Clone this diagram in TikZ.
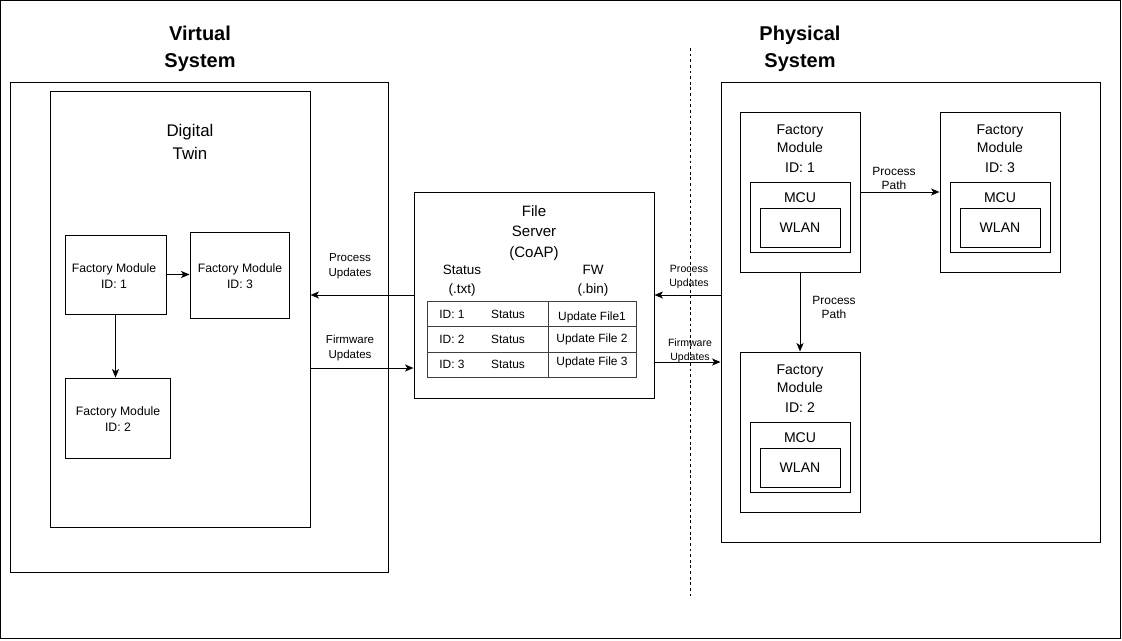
\documentclass[tikz,border=0pt]{standalone}
\usepackage{fontspec}
\setmainfont{Liberation Sans}
\usetikzlibrary{arrows.meta,fit}
\newcommand\setfs[2]{\fontsize{#1}{#2}\selectfont}

\begin{document}
\begin{tikzpicture}[x=0.025cm, y=-0.025cm,
  box/.style={draw, line width=0.7pt, inner sep=0pt},
  lbl/.style={align=center, inner sep=0pt},
  flow/.style={-{Stealth[length=6pt,width=5pt,inset=1.5pt]}, line width=0.7pt},
  title/.style={lbl, font=\setfs{14.2}{19.2}\bfseries},
  tline/.style={draw=black!75, line width=0.7pt}]

\useasboundingbox (0,0) rectangle (1122,640);
\draw[line width=0.7pt] (0.5,0.5) rectangle (1120.5,638.5);

% Virtual System
\node[title] (vtitle) at (200,49) {Virtual\\System};
\node[box, fit={(10,82) (388,572)}] (virt) {};
\node[box, fit={(50,91) (310,527)}] (dt) {};
\node[lbl, font=\setfs{12}{16.4}] (dttitle) at (190,142) {Digital\\Twin};

% Digital Twin modules
\node[box, fit={(65,235) (166,314)}] (vfm1) {};
\node[box, fit={(190,232) (289,318)}] (vfm3) {};
\node[box, fit={(65,378) (170,458)}] (vfm2) {};
\foreach \n/\x/\y in {1/114/276, 3/240/276, 2/118/419} {
    \node[lbl, font=\setfs{8.7}{11}] (vfmt\n) at (\x,\y) {Factory Module\\ID: \n};
}
\draw[flow] (vfm1.east) -- (vfm1.east -| vfm3.west);
\draw[flow] (vfm1.south) -- (vfm1.south |- vfm2.north);

% File Server
\node[box, fit={(414,192) (654,398)}] (fs) {};
\node[lbl, font=\setfs{10.7}{14.4}] (fstitle) at (534,233) {File\\Server\\(CoAP)};
\node[lbl, font=\setfs{9.6}{13.5}] (stat) at (462,281) {Status\\(.txt)};
\node[lbl, font=\setfs{9.6}{13.5}] (fw) at (593,281) {FW\\(.bin)};

% table
\draw[tline] (427,301) rectangle (636,377);
\draw[tline] (427,326) -- (636,326);
\draw[tline] (427,352) -- (636,352);
\draw[tline] (548,301) -- (548,377);
\foreach \i/\y in {1/314, 2/339, 3/364} {
    \node[lbl, font=\setfs{8.5}{11}] (rid\i) at (452,\y) {ID: \i};
    \node[lbl, font=\setfs{8.5}{11}] (rst\i) at (508,\y) {Status};
}
\foreach \i/\y/\t in {1/317/Update File1, 2/339/Update File 2, 3/362/Update File 3} {
    \node[lbl, font=\setfs{8.5}{11}] (rfw\i) at (592,\y) {\t};
}

% Virtual <-> File Server
\draw[flow] (fs.west) -- (fs.west -| dt.east);
\node[lbl, font=\setfs{8.2}{10.3}] (pul) at (350,266) {Process\\Updates};
\coordinate (fwl) at (310,368);
\draw[flow] (fwl) -- (fwl -| fs.west);
\node[lbl, font=\setfs{8.2}{10.3}] (ful) at (350,348) {Firmware\\Updates};

% separator
\draw[dash pattern=on 2pt off 2pt, line width=0.6pt] (690,48) -- (690,598);

% Physical System
\node[title] (ptitle) at (800,49) {Physical\\System};
\node[box, fit={(721,82) (1100,542)}] (phys) {};

\draw[flow] (phys.west |- fs.east) -- (fs.east);
\node[lbl, font=\setfs{7.5}{9.8}] (pur) at (689,277) {Process\\Updates};
\coordinate (fwr) at (654,362);
\draw[flow] (fwr) -- (fwr -| phys.west);
\node[lbl, font=\setfs{7.5}{9.6}] (fur) at (690,351) {Firmware\\Updates};

% Factory Modules
\foreach \n/\x/\y in {1/740/112, 3/940/112, 2/740/352} {
    \node[box, fit={(\x,\y) (\x+120,\y+160)}] (pfm\n) {};
    \node[lbl, font=\setfs{10}{12.8}] (pfmt\n) at (\x+60,\y+27) {Factory\\Module};
    \node[lbl, font=\setfs{10}{12.8}] (pid\n) at (\x+60,\y+56) {ID: \n};
    \node[box, fit={(\x+10,\y+70) (\x+110,\y+140)}] (mcu\n) {};
    \node[lbl, font=\setfs{10}{12.8}] (mcut\n) at (\x+60,\y+86) {MCU};
    \node[box, fit={(\x+20,\y+96) (\x+100,\y+135)}] (wlan\n) {};
    \node[lbl, font=\setfs{10}{12.8}] (wlant\n) at (wlan\n.center) {WLAN};
}

\draw[flow] (pfm1.east) -- (pfm3.west);
\node[lbl, font=\setfs{8.5}{10}] (pp13) at (894,178) {Process\\Path};
\draw[flow] (pfm1.south) -- (pfm2.north);
\node[lbl, font=\setfs{8.5}{10}] (pp12) at (834,307) {Process\\Path};

\end{tikzpicture}
\end{document}
